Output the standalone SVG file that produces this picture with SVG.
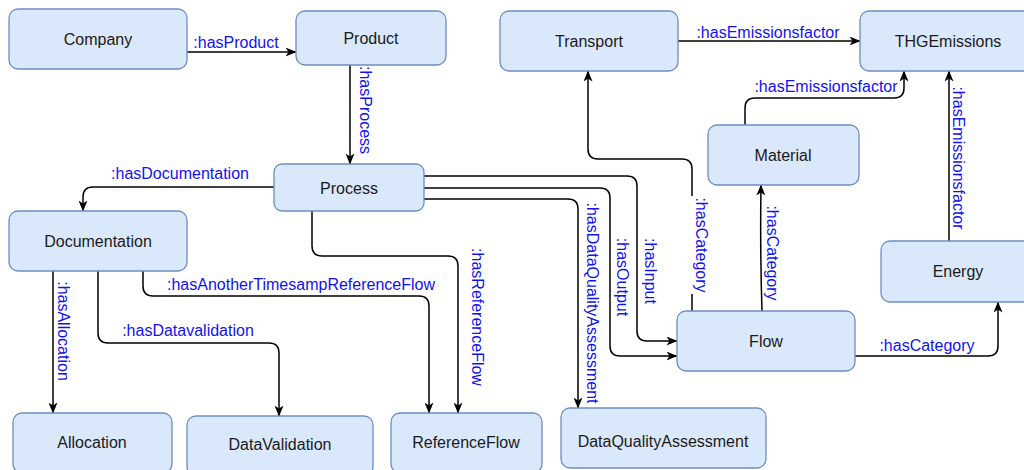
<svg xmlns="http://www.w3.org/2000/svg" width="1024" height="470" viewBox="0 0 1024 470">
<defs>
<marker id="arr" viewBox="0 0 11 9" refX="10.5" refY="4.5" markerWidth="11" markerHeight="9" markerUnits="userSpaceOnUse" orient="auto">
<path d="M0,0 L11,4.5 L0,9 L3,4.5 Z" fill="#000"/>
</marker>
<style>
.node rect{fill:#dae8fc;stroke:#6c8ebf;stroke-width:1.3}
.node text{font-family:"Liberation Sans",Arial,Helvetica,sans-serif;font-size:16px;fill:#1a1a1a;text-anchor:middle;dominant-baseline:central}
.edge{fill:none;stroke:#000;stroke-width:1.5;marker-end:url(#arr)}
.lbl{font-family:"Liberation Sans",Arial,Helvetica,sans-serif;font-size:16px;fill:#1212ee;text-anchor:middle;dominant-baseline:central}
</style>
</defs>
<rect width="1024" height="470" fill="#fff"/>
<g id="connectors">
<path class="edge" d="M187,52 L296,52"/>
<path class="edge" d="M350,65 L350,164"/>
<path class="edge" d="M274,187 L93,187 Q83,187 83,197 L83,211"/>
<path class="edge" d="M312,211 L312,246 Q312,256 322,256 L448,256 Q458,256 458,266 L458,413"/>
<path class="edge" d="M143,271 L143,286 Q143,296 153,296 L419,296 Q429,296 429,306 L429,413"/>
<path class="edge" d="M98,271 L98,333 Q98,343 108,343 L269,343 Q279,343 279,353 L279,416"/>
<path class="edge" d="M53,271 L53,413"/>
<path class="edge" d="M424,199 L568,199 Q578,199 578,209 L578,408"/>
<path class="edge" d="M424,188 L600,188 Q610,188 610,198 L610,346 Q610,356 620,356 L677,356"/>
<path class="edge" d="M424,176 L627,176 Q637,176 637,186 L637,331 Q637,341 647,341 L677,341"/>
<path class="edge" d="M692,311 L692,169 Q692,159 682,159 L598,159 Q588,159 588,149 L588,71"/>
<path class="edge" d="M762,311 Q760,250 761,185"/>
<path class="edge" d="M745,125 L745,108 Q745,98 755,98 L894,98 Q904,98 904,88 L904,71"/>
<path class="edge" d="M678,41 L860,41"/>
<path class="edge" d="M949,241 L949,71"/>
<path class="edge" d="M855,356 L988,356 Q998,356 998,346 L998,302"/>
</g>
<g id="labels">
<text class="lbl" x="236" y="42">:hasProduct</text>
<text class="lbl" transform="translate(365,110) rotate(90)">:hasProcess</text>
<text class="lbl" x="180" y="173">:hasDocumentation</text>
<text class="lbl" transform="translate(477,317) rotate(90)">:hasReferenceFlow</text>
<text class="lbl" x="301" y="284">:hasAnotherTimesampReferenceFlow</text>
<text class="lbl" x="188" y="330">:hasDatavalidation</text>
<text class="lbl" transform="translate(63,331) rotate(90)">:hasAllocation</text>
<text class="lbl" transform="translate(592,303) rotate(90)">:hasDataQualityAssessment</text>
<text class="lbl" transform="translate(622,277) rotate(90)">:hasOutput</text>
<text class="lbl" transform="translate(650,271) rotate(90)">:hasInput</text>
<rect x="691" y="196" width="20" height="98" fill="#fff"/>
<text class="lbl" transform="translate(701,245) rotate(90)">:hasCategory</text>
<text class="lbl" transform="translate(772,253) rotate(90)">:hasCategory</text>
<text class="lbl" x="826" y="86">:hasEmissionsfactor</text>
<text class="lbl" x="768" y="32">:hasEmissionsfactor</text>
<text class="lbl" transform="translate(958,158) rotate(90)">:hasEmissionsfactor</text>
<text class="lbl" x="927" y="345">:hasCategory</text>
</g>
<g id="company" class="node"><rect x="9" y="9" width="178" height="60" rx="9"/><text x="98" y="39">Company</text></g>
<g id="product" class="node"><rect x="296" y="11" width="150" height="54" rx="9"/><text x="371" y="38">Product</text></g>
<g id="process" class="node"><rect x="274" y="164" width="150" height="47" rx="8"/><text x="349" y="188">Process</text></g>
<g id="documentation" class="node"><rect x="9" y="211" width="178" height="60" rx="9"/><text x="98" y="241">Documentation</text></g>
<g id="transport" class="node"><rect x="500" y="11" width="178" height="60" rx="9"/><text x="589" y="41">Transport</text></g>
<g id="thgemissions" class="node"><rect x="860" y="11" width="176" height="60" rx="9"/><text x="948" y="41">THGEmissions</text></g>
<g id="material" class="node"><rect x="708" y="125" width="151" height="60" rx="9"/><text x="783" y="155">Material</text></g>
<g id="energy" class="node"><rect x="881" y="241" width="155" height="61" rx="9"/><text x="958" y="271">Energy</text></g>
<g id="flow" class="node"><rect x="677" y="311" width="178" height="60" rx="9"/><text x="766" y="341">Flow</text></g>
<g id="allocation" class="node"><rect x="13" y="413" width="159" height="60" rx="9"/><text x="92" y="442">Allocation</text></g>
<g id="datavalidation" class="node"><rect x="187" y="416" width="186" height="60" rx="9"/><text x="280" y="444">DataValidation</text></g>
<g id="referenceflow" class="node"><rect x="391" y="413" width="151" height="60" rx="9"/><text x="466" y="442">ReferenceFlow</text></g>
<g id="dataqualityassessment" class="node"><rect x="561" y="408" width="205" height="60" rx="9"/><text x="663" y="441">DataQualityAssessment</text></g>
</svg>
